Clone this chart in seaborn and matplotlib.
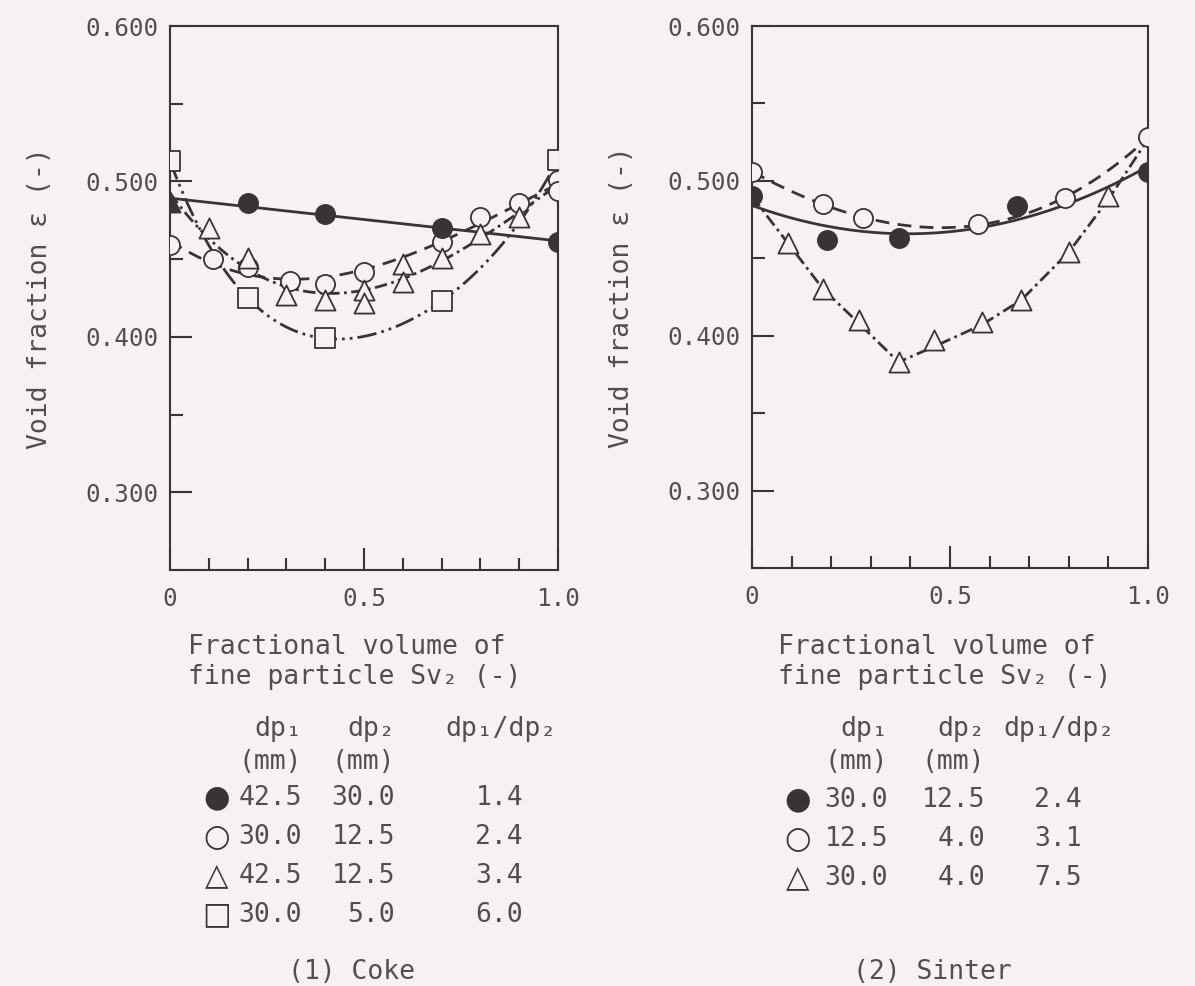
# void fraction vs fine particle fraction, coke / sinter  -> out.png
# old scanned figure, redrawn

import matplotlib
matplotlib.use("Agg")
import matplotlib.pyplot as plt
import numpy as np
import seaborn as sns
from matplotlib.ticker import FixedFormatter, FixedLocator, MultipleLocator

# ---- (1) coke ----
coke_filled_x = [0.0, 0.2, 0.4, 0.7, 1.0]
coke_filled_y = [0.487, 0.486, 0.479, 0.470, 0.461]
coke_open_x = [0.0, 0.11, 0.2, 0.31, 0.4, 0.5, 0.7, 0.8, 0.9, 1.0, 1.0]
coke_open_y = [0.459, 0.450, 0.445, 0.436, 0.434, 0.442, 0.461, 0.477, 0.486, 0.501, 0.494]
coke_tri_x = [0.0, 0.1, 0.2, 0.3, 0.4, 0.5, 0.5, 0.6, 0.6, 0.7, 0.8, 0.9]
coke_tri_y = [0.487, 0.470, 0.451, 0.427, 0.424, 0.430, 0.422, 0.447, 0.435, 0.451, 0.466, 0.477]
coke_sq_x = [0.0, 0.2, 0.4, 0.7, 1.0]
coke_sq_y = [0.513, 0.425, 0.399, 0.423, 0.514]

coke_dp1 = [42.5, 30.0, 42.5, 30.0]
coke_dp2 = [30.0, 12.5, 12.5, 5.0]
coke_ratio = [1.4, 2.4, 3.4, 6.0]

# ---- (2) sinter ----
sint_filled_x = [0.0, 0.19, 0.37, 0.67, 1.0]
sint_filled_y = [0.490, 0.462, 0.463, 0.484, 0.506]
sint_open_x = [0.0, 0.18, 0.28, 0.57, 0.79, 1.0]
sint_open_y = [0.506, 0.485, 0.476, 0.472, 0.489, 0.528]
sint_tri_x = [0.09, 0.18, 0.27, 0.37, 0.46, 0.58, 0.68, 0.80, 0.90]
sint_tri_y = [0.460, 0.430, 0.410, 0.383, 0.397, 0.409, 0.423, 0.454, 0.490]
# the dash-dot curve starts under the filled circle at 0 and ends at the open circle at 1
sint_tri_line_x = [0.0, 0.09, 0.18, 0.27, 0.37, 0.46, 0.58, 0.68, 0.80, 0.90, 1.0]
sint_tri_line_y = [0.490, 0.460, 0.430, 0.408, 0.383, 0.393, 0.407, 0.423, 0.454, 0.488, 0.527]

sint_dp1 = [30.0, 12.5, 30.0]
sint_dp2 = [12.5, 4.0, 4.0]
sint_ratio = [2.4, 3.1, 7.5]

x_ticks = [0.0, 0.5, 1.0]
x_tick_labels = ["0", "0.5", "1.0"]
y_ticks = [0.3, 0.4, 0.5, 0.6]
y_tick_labels = ["0.300", "0.400", "0.500", "0.600"]

W, H = 1195, 986
INK = "#3a3335"
TXT = "#544d4f"
BG = "#f6f2f3"
FS = 19
TICK_FS = 17.5

DASHED = (5, 3)
DASHDOT = (4.5, 1.6, 1, 1.6)
DASHDOTDOT = (7, 1.8, 1, 1.8, 1, 1.8)

sns.set_style("ticks")
plt.rcParams["font.family"] = ["DejaVu Sans Mono", "DejaVu Sans"]
plt.rcParams["font.size"] = FS


def fx(x):
    return x / W


def fy(y):
    return 1 - y / H


def style_axes(ax):
    ax.set_facecolor(BG)
    ax.set_xlim(0, 1)
    ax.set_ylim(0.25, 0.60)
    for s in ax.spines.values():
        s.set_color(INK)
        s.set_linewidth(1.5)
    ax.xaxis.set_major_locator(FixedLocator(x_ticks))
    ax.xaxis.set_major_formatter(FixedFormatter(x_tick_labels))
    ax.xaxis.set_minor_locator(MultipleLocator(0.1))
    ax.yaxis.set_major_locator(FixedLocator(y_ticks))
    ax.yaxis.set_major_formatter(FixedFormatter(y_tick_labels))
    ax.yaxis.set_minor_locator(MultipleLocator(0.05))
    ax.tick_params(which="both", direction="in", color=INK, width=1.5,
                   labelcolor=TXT, labelsize=TICK_FS)
    ax.tick_params(which="major", length=16)
    ax.tick_params(which="minor", length=9)
    ax.tick_params(axis="x", which="both", pad=12)
    ax.tick_params(axis="y", which="both", pad=8)


def line_kws(dashes):
    kws = dict(color=INK, lw=2.0, zorder=2)
    if dashes is None:
        kws["linestyle"] = "-"
    else:
        kws["dashes"] = dashes
    return kws


def fit_line(ax, x, y, order, dashes=None):
    sns.regplot(x=np.array(x), y=np.array(y), order=order, ci=None,
                scatter=False, truncate=False, ax=ax, line_kws=line_kws(dashes))


def marks(ax, x, y, marker, filled, size):
    sns.scatterplot(x=x, y=y, marker=marker, s=size,
                    color=INK if filled else BG, edgecolor=INK,
                    linewidth=1.3, zorder=3, legend=False, ax=ax)


fig = plt.figure(figsize=(W / 100, H / 100), dpi=100, facecolor=BG)
ax1 = fig.add_axes([fx(170), fy(570), (558 - 170) / W, (570 - 26) / H])
ax2 = fig.add_axes([fx(752), fy(568), (1148 - 752) / W, (568 - 26) / H])

for ax in (ax1, ax2):
    style_axes(ax)

# coke
fit_line(ax1, coke_filled_x, coke_filled_y, 1)
fit_line(ax1, coke_open_x, coke_open_y, 3, DASHED)
fit_line(ax1, coke_tri_x, coke_tri_y, 3, DASHDOT)
fit_line(ax1, coke_sq_x, coke_sq_y, 4, DASHDOTDOT)
marks(ax1, coke_sq_x, coke_sq_y, "s", False, 200)
marks(ax1, coke_open_x, coke_open_y, "o", False, 190)
marks(ax1, coke_tri_x[1:], coke_tri_y[1:], "^", False, 210)
# at x=0 the filled circle sits under the triangle -> prints as a black triangle
marks(ax1, coke_filled_x[1:], coke_filled_y[1:], "o", True, 190)
marks(ax1, coke_tri_x[:1], coke_tri_y[:1], "^", True, 210)

# sinter
fit_line(ax2, sint_filled_x, sint_filled_y, 2)
fit_line(ax2, sint_open_x, sint_open_y, 3, DASHED)
sns.lineplot(x=sint_tri_line_x, y=sint_tri_line_y, ax=ax2, legend=False,
             **line_kws(DASHDOT))
marks(ax2, sint_tri_x, sint_tri_y, "^", False, 210)
marks(ax2, sint_open_x, sint_open_y, "o", False, 190)
marks(ax2, sint_filled_x, sint_filled_y, "o", True, 190)

for ax in (ax1, ax2):
    ax.set_xlim(0, 1)
    ax.set_ylim(0.25, 0.60)

xlab = "Fractional volume of\nfine particle Sv\u2082 (-)"
ylab = "Void fraction \u03b5 (-)"
ax1.set_xlabel(xlab, color=TXT, fontsize=FS, va="center", multialignment="left")
ax2.set_xlabel(xlab, color=TXT, fontsize=FS, va="center", multialignment="left")
ax1.xaxis.set_label_coords((355 - 170) / 388, (570 - 662) / 544)
ax2.xaxis.set_label_coords((945 - 752) / 396, (568 - 662) / 542)
ax1.set_ylabel(ylab, color=TXT, fontsize=FS, va="center")
ax2.set_ylabel(ylab, color=TXT, fontsize=FS, va="center")
ax1.yaxis.set_label_coords((40 - 170) / 388, 0.5)
ax2.yaxis.set_label_coords((622 - 752) / 396, 0.5)


# legend tables under each panel
def table(cols, syms, dp1, dp2, ratio, row0, caption, cap_x):
    sym_x, c1, c2, c3, hdr3 = cols
    txt = dict(color=TXT, fontsize=FS, va="center")
    fig.text(fx(c1), fy(729), "dp\u2081", ha="right", **txt)
    fig.text(fx(c2), fy(729), "dp\u2082", ha="right", **txt)
    fig.text(fx(hdr3), fy(729), "dp\u2081/dp\u2082", ha="left", **txt)
    fig.text(fx(c1), fy(762), "(mm)", ha="right", **txt)
    fig.text(fx(c2), fy(762), "(mm)", ha="right", **txt)
    for i in range(len(dp1)):
        y = row0 + i * 39
        fig.text(fx(sym_x), fy(y), syms[i], ha="center", va="center",
                 color=INK, fontsize=22, family=["DejaVu Sans", "DejaVu Sans Mono"])
        fig.text(fx(c1), fy(y), f"{dp1[i]:.1f}", ha="right", **txt)
        fig.text(fx(c2), fy(y), f"{dp2[i]:.1f}", ha="right", **txt)
        fig.text(fx(c3), fy(y), f"{ratio[i]:.1f}", ha="right", **txt)
    fig.text(fx(cap_x), fy(972), caption, ha="center", **txt)


table((217, 302, 395, 523, 445), ["\u25cf", "\u25cb", "\u25b3", "\u25a1"],
      coke_dp1, coke_dp2, coke_ratio, 798, "(1) Coke", 352)
table((798, 888, 985, 1082, 1003), ["\u25cf", "\u25cb", "\u25b3"],
      sint_dp1, sint_dp2, sint_ratio, 800, "(2) Sinter", 932)

fig.savefig("out.png", dpi=100, facecolor=BG)
